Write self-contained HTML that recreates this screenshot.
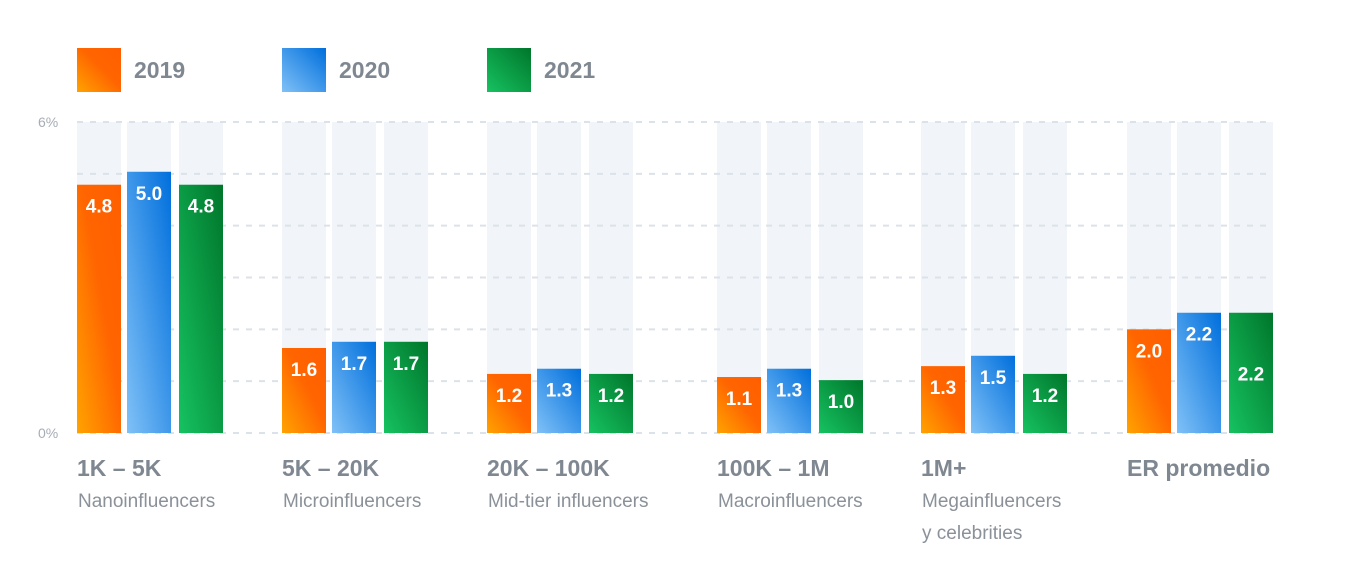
<!DOCTYPE html>
<html><head><meta charset="utf-8"><style>
body{margin:0;background:#fff;width:1368px;height:580px;overflow:hidden;font-family:"Liberation Sans",sans-serif}
</style></head><body>
<svg width="1368" height="580">
<defs>
<linearGradient id="g0" x1="0" y1="1" x2="1" y2="0"><stop offset="0" stop-color="#ffa300"/><stop offset="0.55" stop-color="#ff6500"/><stop offset="1" stop-color="#ff5e00"/></linearGradient>
<linearGradient id="g1" x1="0" y1="1" x2="1" y2="0"><stop offset="0" stop-color="#80c1f7"/><stop offset="1" stop-color="#006fdc"/></linearGradient>
<linearGradient id="g2" x1="0" y1="1" x2="1" y2="0"><stop offset="0" stop-color="#16c262"/><stop offset="1" stop-color="#00762a"/></linearGradient>
</defs>
<g id="legend"></g>
<g id="grid"></g>
<g id="bars"></g>
<g id="cats"></g>
</svg>
<script>
const years=["2019","2020","2021"];
const categories=["1K – 5K","5K – 20K","20K – 100K","100K – 1M","1M+","ER promedio"];
const subtitles=[["Nanoinfluencers"],["Microinfluencers"],["Mid-tier influencers"],["Macroinfluencers"],["Megainfluencers","y celebrities"],[]];
const s2019=[4.79,1.64,1.14,1.08,1.29,2.0];
const s2020=[5.04,1.76,1.24,1.24,1.49,2.32];
const s2021=[4.79,1.76,1.14,1.02,1.14,2.32];
const l2019=["4.8","1.6","1.2","1.1","1.3","2.0"];
const l2020=["5.0","1.7","1.3","1.3","1.5","2.2"];
const l2021=["4.8","1.7","1.2","1.0","1.2","2.2"];
const yTicks=[0,1,2,3,4,5,6];
const series=[s2019,s2020,s2021], labels=[l2019,l2020,l2021];
const NS="http://www.w3.org/2000/svg";
const y0=433,y6=122,yv=v=>y0-(y0-y6)*v/6;
const groupX=[77,282,487,717,921,1127], offs=[0,50,102], BW=44;
function mk(tag,attrs,parent){const e=document.createElementNS(NS,tag);for(const k in attrs)e.setAttribute(k,attrs[k]);parent.appendChild(e);return e;}
const G=id=>document.getElementById(id);
// legend
const legX=[77,282,487];
years.forEach((y,i)=>{
 const r=mk('rect',{x:legX[i],y:48,width:44,height:44,fill:`url(#g${i})`},G('legend'));
 
 
 const t=mk('text',{x:legX[i]+57,y:78,'font-size':23,'font-weight':'bold',fill:'#7f8791'},G('legend'));
 t.textContent=y;
 
 
});
// background columns
groupX.forEach((gx)=>offs.forEach(o=>{
 const r=mk('rect',{x:gx+o,y:y6,width:BW,height:y0-y6,fill:'#f1f5f9'},G('grid'));
 
 
}));
yTicks.forEach(t=>{
 const l=mk('line',{x1:77,x2:1273,y1:yv(t),y2:yv(t),stroke:'#dce2e9','stroke-width':2,'stroke-dasharray':'6 7'},G('grid'));
 
 
});
[[0,"0%"],[6,"6%"]].forEach(([v,s])=>{
 const t=mk('text',{x:38,y:yv(v)+5,'font-size':14,fill:'#a7adb5'},G('grid'));
 t.textContent=s;
 
 
});
// bars
categories.forEach((c,ci)=>{
 series.forEach((s,si)=>{
  const x=groupX[ci]+offs[si],top=yv(s[ci]);
  const r=mk('rect',{x:x,y:top,width:BW,height:y0-top,fill:`url(#g${si})`},G('bars'));
  
  
  const ly=(ci==5&&si==2)?top+68:top+28;
  const t=mk('text',{x:x+BW/2,y:ly,'font-size':19,'font-weight':'bold',fill:'#fff','text-anchor':'middle'},G('bars'));
  t.textContent=labels[si][ci];
  
  
 });
 const t=mk('text',{x:groupX[ci],y:476,'font-size':23,'font-weight':'bold',fill:'#7f8791'},G('cats'));
 t.textContent=c;
 
 
 subtitles[ci].forEach((st,k)=>{
  const u=mk('text',{x:groupX[ci]+1,y:507+k*32,'font-size':19,fill:'#8a9199'},G('cats'));
  u.textContent=st;
  
  
 });
});
</script>
</body></html>
